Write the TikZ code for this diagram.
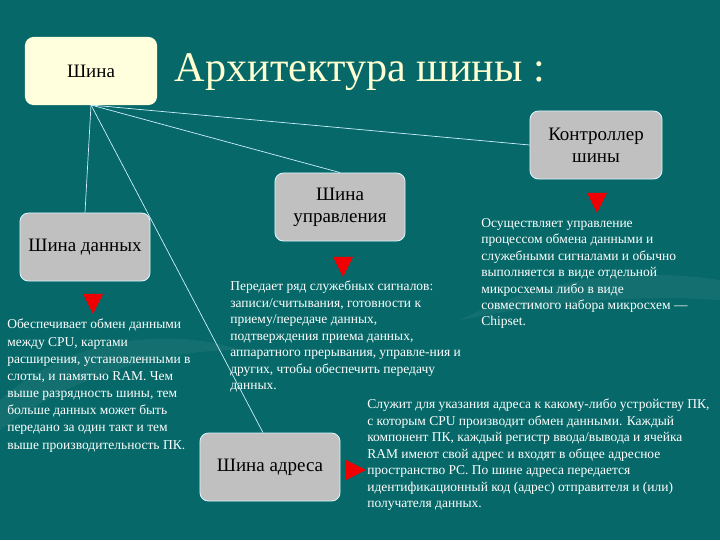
\documentclass[tikz,border=0pt]{standalone}
\usepackage{fontspec}
\setmainfont{Liberation Serif}
\newfontfamily\busfont{Liberation Serif}[Ligatures=TeX]
\usepackage{xcolor}
\definecolor{bgcol}{RGB}{6, 104, 104}
\definecolor{boxcol}{RGB}{192, 192, 192}
\definecolor{topcol}{RGB}{255, 255, 222}
\definecolor{titlecol}{RGB}{255, 255, 210}
\definecolor{tricol}{RGB}{240, 0, 0}
\usetikzlibrary{positioning, shapes.geometric, calc}

\begin{document}
\begin{tikzpicture}[x=0.025cm, y=-0.025cm,
  busbox/.style={rounded corners=6pt, fill=boxcol, draw=white!85!cyan,
        line width=0.6pt, align=center, font=\busfont\fontsize{13.5}{15.5}\selectfont,
        text=black},
  notetext/.style={anchor=north west, inner sep=0pt, align=left,
        text=white, font=\busfont\fontsize{9.6}{11.7}\selectfont},
  redtri/.style={isosceles triangle, isosceles triangle stretches,
        fill=tricol, inner sep=0pt, minimum width=0.5cm, minimum height=0.5cm},
  fanline/.style={draw=white!80!cyan, line width=0.5pt}]
  % background
  \fill[bgcol] (0,0) rectangle (720,540);
  \useasboundingbox (0,0) rectangle (720,540);
  % faint swooshes
  \fill[white, opacity=0.06] (0,400) .. controls (80,330) and (180,330) .. (240,350)
        .. controls (170,350) and (80,370) .. (0,430) -- cycle;
  \fill[white, opacity=0.06] (460,320) .. controls (560,270) and (650,270) .. (720,280)
        -- (720,300) .. controls (640,295) and (560,300) .. (460,320) -- cycle;

  % top box and title
  \node[rounded corners=6pt, fill=topcol, minimum width=3.3cm, minimum height=1.7cm,
        font=\busfont\fontsize{13.5}{15.5}\selectfont] (bus) at (91,71) {Шина};
  \node[anchor=west, text=titlecol, font=\busfont\fontsize{30}{34}\selectfont]
        (title) at (170,72) {Архитектура шины :};

  % bus boxes
  \node[busbox, minimum width=3.3cm, minimum height=1.7cm] (ctrl) at (596,145)
        {Контроллер\\шины};
  \node[busbox, minimum width=3.25cm, minimum height=1.7cm] (cbus) at (340,207)
        {Шина\\управления};
  \node[busbox, minimum width=3.25cm, minimum height=1.7cm] (dbus) at (85,247)
        {Шина данных};
  \node[busbox, minimum width=3.5cm, minimum height=1.7cm] (abus) at (270,467)
        {Шина адреса};

  % fan lines
  \coordinate (root) at (91,105);
  \draw[fanline] (root) -- (ctrl.west);
  \draw[fanline] (root) -- (cbus.north);
  \draw[fanline] (root) -- (dbus.north);
  \draw[fanline] (root) -- ([xshift=-5]abus.north);

  % red markers
  \node[redtri, shape border rotate=-90] (t1) at (597,199) {};
  \node[redtri, shape border rotate=-90] (t2) at (343,263) {};
  \node[redtri, shape border rotate=-90] (t3) at (93,300) {};
  \node[redtri] (t4) at (352,470) {};

  % descriptions
  \node[notetext] (ctrltxt) at (481,218) {Осуществляет управление\\
    процессом обмена данными и\\служебными сигналами и обычно\\
    выполняется в виде отдельной\\микросхемы либо в виде\\
    совместимого набора микросхем —\\Chipset.};
  \node[notetext] (cbustxt) at (230,281) {Передает ряд служебных сигналов:\\
    записи/считывания, готовности к\\приему/передаче данных,\\
    подтверждения приема данных,\\аппаратного прерывания, управле-ния и\\
    других, чтобы обеспечить передачу\\данных.};
  \node[notetext, font=\busfont\fontsize{9.6}{12.2}\selectfont] (dbustxt) at (7,319)
    {Обеспечивает обмен данными\\между CPU, картами\\
    расширения, установленными в\\слоты, и памятью RAM. Чем\\
    выше разрядность шины, тем\\больше данных может быть\\
    передано за один такт и тем\\выше производительность ПК.};
  \node[notetext] (abustxt) at (367,399)
    {Служит для указания адреса к какому-либо устройству ПК,\\
    с которым CPU производит обмен данными. Каждый\\
    компонент ПК, каждый регистр ввода/вывода и ячейка\\
    RAM имеют свой адрес и входят в общее адресное\\
    пространство PC. По шине адреса передается\\
    идентификационный код (адрес) отправителя и (или)\\
    получателя данных.};
\end{tikzpicture}
\end{document}
